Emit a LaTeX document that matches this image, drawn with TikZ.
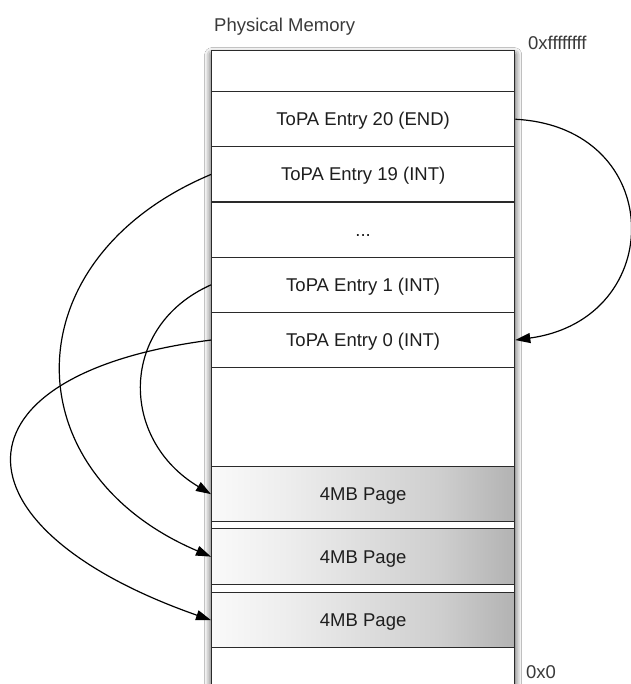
\documentclass[tikz,border=0pt]{standalone}
\usepackage{fontspec}
\setmainfont{Liberation Sans}
\usetikzlibrary{arrows.meta,shadows.blur}

\definecolor{boxline}{HTML}{2A2A2A}
\definecolor{textdark}{HTML}{1E1E1E}
\definecolor{labelgray}{HTML}{3A3A3A}

% left-to-right grey ramp used for the page frames
\pgfdeclarehorizontalshading{pageshade}{100bp}{%
  color(0bp)=(white); color(25bp)=(black!2);
  color(37.5bp)=(black!7); color(50bp)=(black!13);
  color(62.5bp)=(black!19); color(75bp)=(black!30); color(100bp)=(black!30)}

\begin{document}
\begin{tikzpicture}[
  x=1pt, y=-1pt,
  txt/.style={font=\fontsize{18.5}{22}\selectfont},
  column/.style={rectangle, draw=boxline, line width=1.3pt, fill=white,
    minimum width=303, inner sep=0, anchor=north west,
    blur shadow={shadow xshift=0pt, shadow yshift=-4pt,
                 shadow blur radius=7pt, shadow opacity=85}},
  row/.style={rectangle, draw=boxline, line width=1.3pt,
    minimum width=303, inner sep=0, anchor=north west,
    txt, text=textdark, text height=13pt, text depth=0pt},
  page/.style={row, shading=pageshade},
  addr/.style={txt, text=labelgray, inner sep=0, anchor=base west},
  link/.style={line width=1.2pt, black,
    -{Triangle[length=15pt,width=10pt]}}
]
\useasboundingbox (0,0) rectangle (630,684);
\fill[white] (0,0) rectangle (630,684);

% heading
\node[addr] (title) at (214,32) {Physical Memory};

% memory column
\node[column, minimum height=640] (mem) at (211,50) {};

\node[row, minimum height=41]   (top)  at (211,50)    {};
\node[row, minimum height=55.2] (e20)  at (211,91)    {ToPA Entry 20 (END)};
\node[row, minimum height=55.2] (e19)  at (211,146.2) {ToPA Entry 19 (INT)};
\node[row, minimum height=55.2] (dots) at (211,201.4) {...};
\node[row, minimum height=55.2] (e1)   at (211,256.6) {ToPA Entry 1 (INT)};
\node[row, minimum height=55.2] (e0)   at (211,311.8) {ToPA Entry 0 (INT)};
\node[row, minimum height=99]   (free) at (211,367)   {};

\node[page, minimum height=55] (p1) at (211,466) {4MB Page};
\node[page, minimum height=56] (p2) at (211,528) {4MB Page};
\node[page, minimum height=55] (p3) at (211,592) {4MB Page};
\node[row, minimum height=45]  (bot) at (211,647) {};

% address labels
\node[addr] (hi) at (528,50)  {0xffffffff};
\node[addr] (lo) at (526,678) {0x0};

% table links
\draw[link] (e20.east) .. controls +(152,8) and +(153,-21) .. (e0.east);
\draw[link] (e19.west) .. controls +(-200,84) and +(-200,-85) .. (p2.west);
\draw[link] (e1.west) .. controls +(-92,41) and +(-92,-55) .. (p1.west);
\draw[link] (e0.west) .. controls +(-265,34) and +(-265,-93) .. (p3.west);
\end{tikzpicture}
\end{document}
